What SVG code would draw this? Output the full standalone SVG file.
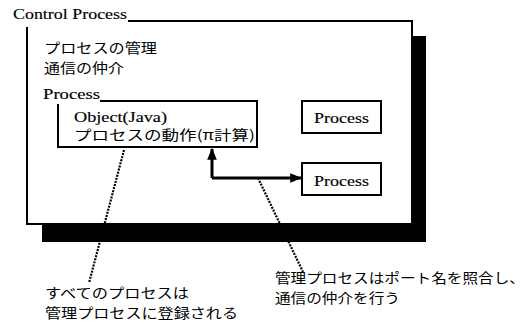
<svg xmlns="http://www.w3.org/2000/svg" width="531" height="329" viewBox="0 0 531 329">
<style>
.lat{font-family:"Liberation Serif","DejaVu Serif",serif;font-size:15px;fill:#000;stroke:#000;stroke-width:0.15}
.jp{font-family:"Noto Sans CJK JP","Liberation Serif",sans-serif;font-size:13.5px;fill:#000}
.box{fill:none;stroke:#000;stroke-width:2}
.pbox{fill:#fff;stroke:#000;stroke-width:2}
.dot{fill:none;stroke:#000;stroke-width:2.2;stroke-dasharray:2 1.2}
.arr{fill:none;stroke:#000;stroke-width:3}
</style>
<defs>
<marker id="ah" viewBox="0 0 10 10" refX="9" refY="5" markerWidth="4" markerHeight="4" markerUnits="strokeWidth" orient="auto">
<path d="M0,1 L10,5 L0,9 z" fill="#000"/>
</marker>
</defs>
<rect width="531" height="329" fill="#fff"/>
<g id="control-process">
<rect x="42" y="36" width="384" height="206" fill="#000"/>
<rect x="27" y="21" width="385" height="203" fill="#fff"/>
<path class="box" d="M128,21 H412 V224 H27 V27"/>
<text class="lat" x="13" y="19" textLength="114" lengthAdjust="spacingAndGlyphs">Control Process</text>
<text class="jp" x="44" y="53" textLength="113" lengthAdjust="spacingAndGlyphs">プロセスの管理</text>
<text class="jp" x="44" y="73" textLength="80" lengthAdjust="spacingAndGlyphs">通信の仲介</text>
</g>
<g id="process-main">
<path class="box" d="M100,101 H257 V147 H58 V104"/>
<text class="lat" x="43" y="99" textLength="57" lengthAdjust="spacingAndGlyphs">Process</text>
<text class="lat" x="74" y="122" textLength="93" lengthAdjust="spacingAndGlyphs">Object(Java)</text>
<text class="jp" x="74" y="140" textLength="181" lengthAdjust="spacingAndGlyphs">プロセスの動作(π計算)</text>
</g>
<g id="process-1">
<rect class="pbox" x="302" y="101" width="79" height="32"/>
<text class="lat" x="314" y="123" font-size="16" textLength="55" lengthAdjust="spacingAndGlyphs">Process</text>
</g>
<g id="process-2">
<rect class="pbox" x="302" y="163" width="79" height="32"/>
<text class="lat" x="314" y="186" font-size="16" textLength="55" lengthAdjust="spacingAndGlyphs">Process</text>
</g>
<g id="connectors">
<path class="arr" d="M212,178 V149" marker-end="url(#ah)"/>
<path class="arr" d="M212,178 H301" marker-end="url(#ah)"/>
<path class="dot" d="M124,150 L89,283"/>
<path class="dot" d="M258,178 L303,272"/>
</g>
<g id="notes">
<text class="jp" x="45" y="298" textLength="144" lengthAdjust="spacingAndGlyphs">すべてのプロセスは</text>
<text class="jp" x="45" y="318" textLength="193" lengthAdjust="spacingAndGlyphs">管理プロセスに登録される</text>
<text class="jp" x="275" y="283" textLength="250" lengthAdjust="spacingAndGlyphs">管理プロセスはポート名を照合し、</text>
<text class="jp" x="275" y="303" textLength="125" lengthAdjust="spacingAndGlyphs">通信の仲介を行う</text>
</g>
</svg>
